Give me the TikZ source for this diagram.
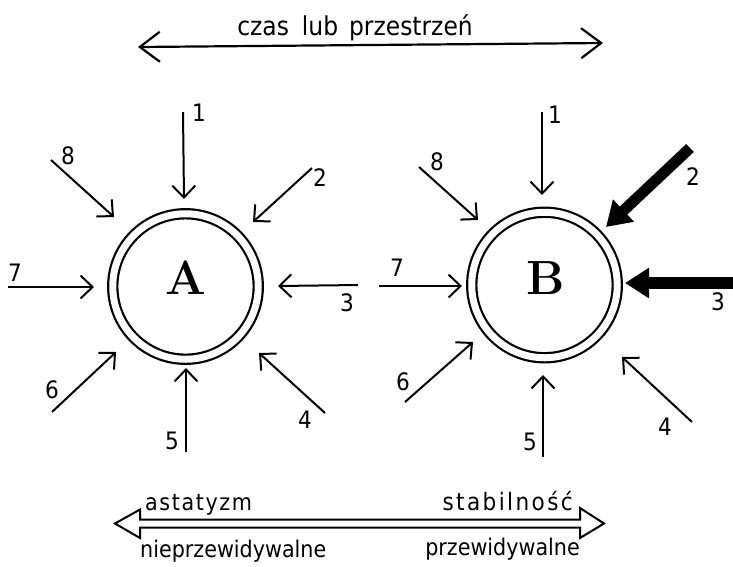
\documentclass[tikz,border=0pt]{standalone}
\usepackage{fontspec}
\newfontfamily\lett{DejaVu Sans Condensed}
\usetikzlibrary{arrows.meta}
\begin{document}
\begin{tikzpicture}[x=1pt,y=-1pt,
  every node/.style={inner sep=0pt},
  ring/.style={circle, draw, line width=2.2pt, double, double distance=7pt, minimum size=145.5pt},
  letter/.style={font=\fontsize{48}{48}\selectfont\bfseries},
  inarrow/.style={line width=2pt, -{Straight Barb[length=12pt,width=23pt]}},
  heavyarrow/.style={line width=#1, -{Triangle[length=24pt,width=29pt]}},
  num/.style={font=\lett\fontsize{24}{24}\selectfont},
  words/.style={font=\lett\fontsize{23}{23}\selectfont},
  toparrow/.style={line width=2.2pt, {Straight Barb[length=20pt,width=30pt]}-{Straight Barb[length=20pt,width=30pt]}},
  dblarrow/.style={line width=2pt, line join=miter},
]
\useasboundingbox (0,0) rectangle (733,566);

% top arrow and text
\node[words, font=\lett\fontsize{26}{26}\selectfont, anchor=base] (ttl) at (355,35) {czas\hspace{13pt}lub\hspace{11pt}przestrze\'n};
\coordinate (tl) at (138,47);
\coordinate (tr) at (603,43);
\draw[toparrow] (tl) -- (tr);

% circles
\node[ring] (A) at (185.5,286.5) {};
\node[letter] (lA) at (186,278) {A};
\node[ring] (B) at (544.5,285) {};
\node[letter] (lB) at (546,278) {B};

% arrows around A
\coordinate (a1s) at (183,112); \coordinate (a1e) at (184,199);
\coordinate (a2s) at (312,168); \coordinate (a2e) at (253,222);
\coordinate (a3s) at (358,285); \coordinate (a3e) at (278,286);
\coordinate (a4s) at (325,413); \coordinate (a4e) at (259,353);
\coordinate (a5s) at (186,452); \coordinate (a5e) at (186,368);
\coordinate (a6s) at (52,412);  \coordinate (a6e) at (116,352);
\coordinate (a7s) at (8,287);   \coordinate (a7e) at (94,287);
\coordinate (a8s) at (51,160);  \coordinate (a8e) at (114,217);
\foreach \i in {1,...,8} {\draw[inarrow] (a\i s) -- (a\i e);}
\node[num] (nA1) at (199,113) {1};
\node[num] (nA2) at (320,178) {2};
\node[num] (nA3) at (347,303) {3};
\node[num] (nA4) at (305,420) {4};
\node[num] (nA5) at (172,441) {5};
\node[num] (nA6) at (52,390) {6};
\node[num] (nA7) at (15,273) {7};
\node[num] (nA8) at (68,156) {8};

% arrows around B
\coordinate (b1s) at (542,112); \coordinate (b1e) at (542,195);
\coordinate (b2s) at (690,148); \coordinate (b2e) at (606,227);
\coordinate (b3s) at (733,283); \coordinate (b3e) at (625,283);
\coordinate (b4s) at (692,422); \coordinate (b4e) at (622,357);
\coordinate (b5s) at (543,457); \coordinate (b5e) at (543,375);
\coordinate (b6s) at (405,402); \coordinate (b6e) at (473,342);
\coordinate (b7s) at (379,286); \coordinate (b7e) at (462,286);
\coordinate (b8s) at (419,167); \coordinate (b8e) at (478,220);
\foreach \i in {1,4,5,6,7,8} {\draw[inarrow] (b\i s) -- (b\i e);}
\draw[heavyarrow=11pt] (b2s) -- (b2e);
\draw[heavyarrow=12pt] (b3s) -- (b3e);
\node[num] (nB1) at (555,115) {1};
\node[num] (nB2) at (693,177) {2};
\node[num] (nB3) at (718,302) {3};
\node[num] (nB4) at (665,427) {4};
\node[num] (nB5) at (530,442) {5};
\node[num] (nB6) at (403,382) {6};
\node[num] (nB7) at (397,268) {7};
\node[num] (nB8) at (437,162) {8};

% bottom double arrow
\draw[dblarrow] (140,519.5) -- (580,519.5) -- (580,508) -- (604,523.5) -- (580,538) -- (580,527.5)
  -- (140,527.5) -- (140,538) -- (115,523.5) -- (140,509.5) -- cycle;
\node[words, anchor=base west, font=\lett\fontsize{23}{23}\selectfont\addfontfeature{LetterSpace=7}] (ast) at (145,510) {astatyzm};
\node[words, anchor=base east, font=\lett\fontsize{24}{24}\selectfont\addfontfeature{LetterSpace=10}] (stab) at (573,510) {stabilno\'s\'c};
\node[words, anchor=base west, font=\lett\fontsize{23}{23}\selectfont] (niep) at (140,557) {nieprzewidywalne};
\node[words, anchor=base east, font=\lett\fontsize{23}{23}\selectfont] (przew) at (580,555) {przewidywalne};
\end{tikzpicture}
\end{document}
